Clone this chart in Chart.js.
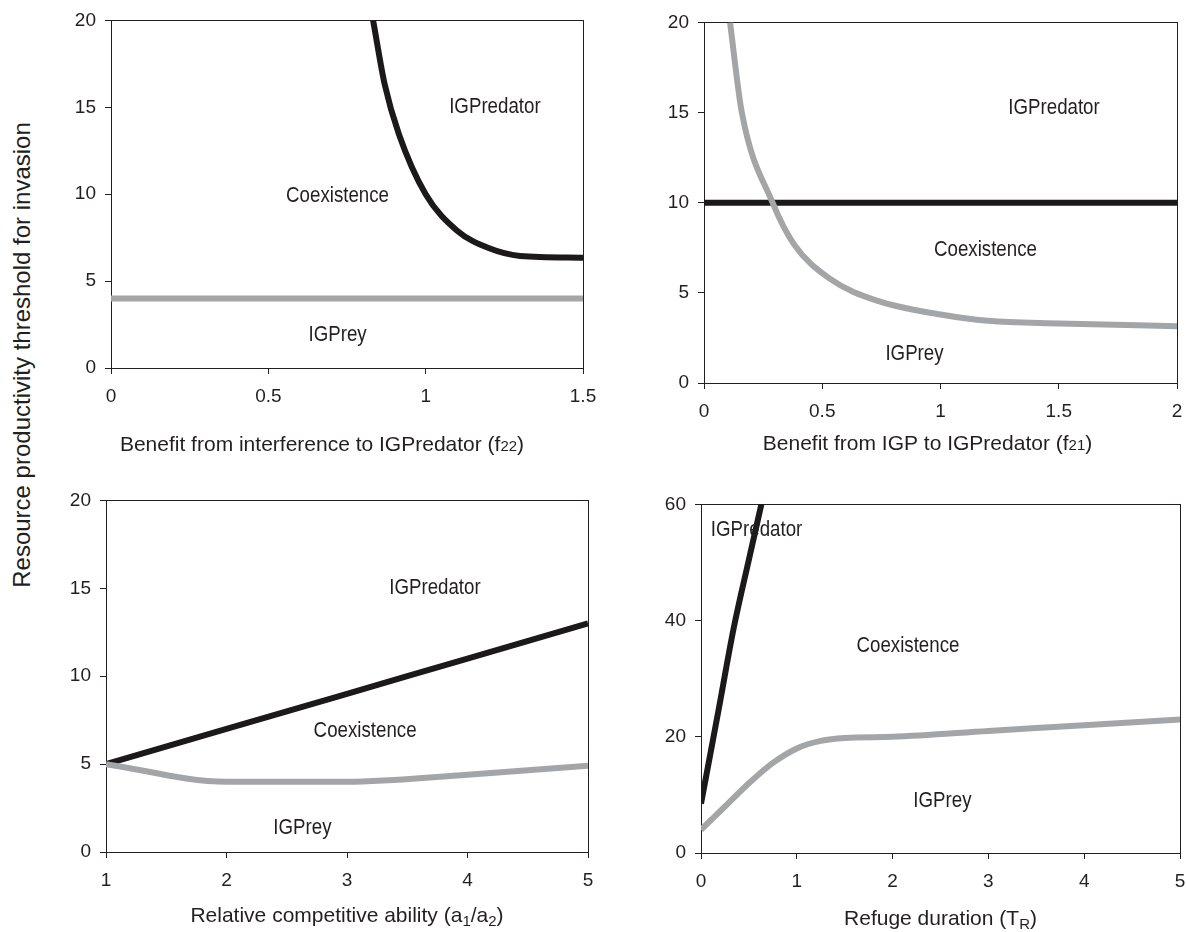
<!DOCTYPE html>
<html>
<head>
<meta charset="utf-8">
<script src="https://cdn.jsdelivr.net/npm/chart.js@4.4.1/dist/chart.umd.min.js"></script>
<style>
  body { margin: 0; background: #fff; width: 1186px; height: 932px; position: relative; overflow: hidden; }
  canvas { position: absolute; }
  #ytitle {
    position: absolute; left: 22px; top: 355px;
    transform: translate(-50%, -50%) rotate(-90deg);
    white-space: nowrap; font: 24px 'Liberation Sans', Arial, sans-serif; color: #231f20;
  }
</style>
</head>
<body>
<div id="ytitle">Resource productivity threshold for invasion</div>
<canvas id="p1"></canvas>
<canvas id="p2"></canvas>
<canvas id="p3"></canvas>
<canvas id="p4"></canvas>
<script>
// panel 1: benefit from interference (f22)
const f22Ticks = [0, 0.5, 1, 1.5];
const f22PredX = [0.833, 0.87, 0.915, 1.0, 1.1, 1.2, 1.3, 1.5];
const f22PredY = [20, 16.3, 13.45, 10, 7.9, 6.9, 6.45, 6.35];
const f22PreyX = [0, 0.5, 1, 1.5];
const f22PreyY = [4, 4, 4, 4];

// panel 2: benefit from IGP (f21)
const f21Ticks = [0, 0.5, 1, 1.5, 2];
const f21PredX = [0, 0.5, 1, 1.5, 2];
const f21PredY = [10, 10, 10, 10, 10];
const f21PreyX = [0.11, 0.16, 0.29, 0.38, 0.53, 0.735, 1.0, 1.2, 1.5, 2];
const f21PreyY = [20, 15, 10, 7.7, 5.8, 4.55, 3.8, 3.45, 3.3, 3.15];

// panel 3: relative competitive ability (a1/a2)
const aTicks = [1, 2, 3, 4, 5];
const aPredX = [1, 2, 3, 4, 5];
const aPredY = [5, 7, 9, 11, 13];
const aPreyX = [1, 2, 3, 4, 5];
const aPreyY = [5, 4, 4, 4.4, 4.9];

// panel 4: refuge duration (TR)
const tTicks = [0, 1, 2, 3, 4, 5];
const tPredX = [0, 0.18, 0.34, 0.5, 0.63];
const tPredY = [8.5, 24.3, 38.6, 50.5, 60];
const tPreyX = [0, 0.25, 0.5, 0.75, 1, 1.25, 1.5, 2, 3, 4, 5];
const tPreyY = [4, 8, 12, 15.5, 18, 19.3, 19.8, 20, 21, 22, 23];

const yTicks20 = [0, 5, 10, 15, 20];
const yTicks60 = [0, 20, 40, 60];

const regionNames = ['IGPredator', 'Coexistence', 'IGPrey'];
const f22LabelX = [1.22, 0.72, 0.72], f22LabelY = [15.0, 9.9, 1.9];
const f21LabelX = [1.48, 1.19, 0.89], f21LabelY = [15.25, 7.4, 1.6];
const aLabelX = [3.73, 3.15, 2.63], aLabelY = [15.0, 6.9, 1.35];
const tLabelX = [0.58, 2.16, 2.52], tLabelY = [55.6, 35.6, 8.9];

const INK = '#231f20';
const BLACK = '#1b1919';
const GREY = '#a3a6a9';
const TICK_FONT = "'Liberation Sans', Arial, sans-serif";

function pts(xs, ys) {
  return xs.map((x, i) => ({ x: x, y: ys[i] }));
}

function drawRich(ctx, parts, cx, y) {
  const big = "21px " + TICK_FONT, small = "15px " + TICK_FONT;
  let w = 0;
  parts.forEach(p => { ctx.font = p.small ? small : big; w += ctx.measureText(p.t).width; });
  let x = cx - w / 2;
  ctx.textAlign = 'left';
  ctx.textBaseline = 'alphabetic';
  parts.forEach(p => {
    ctx.font = p.small ? small : big;
    ctx.fillText(p.t, x, y + (p.low ? 4 : 0));
    x += ctx.measureText(p.t).width;
  });
}

const framePlugin = {
  id: 'frame',
  beforeDatasetsDraw(chart) {
    const { ctx, chartArea: a } = chart;
    ctx.save();
    ctx.strokeStyle = INK;
    ctx.lineWidth = 1;
    ctx.strokeRect(Math.round(a.left) + 0.5, Math.round(a.top) + 0.5,
      Math.round(a.right - a.left), Math.round(a.bottom - a.top));
    ctx.restore();
  },
  afterDraw(chart, args, opts) {
    const { ctx, chartArea: a, scales } = chart;
    ctx.save();
    ctx.fillStyle = INK;
    ctx.font = "22px " + TICK_FONT;
    ctx.textAlign = 'center';
    ctx.textBaseline = 'middle';
    // region names are set in a condensed face in the original
    opts.names.forEach((name, i) => {
      const px = scales.x.getPixelForValue(opts.lx[i]);
      const py = scales.y.getPixelForValue(opts.ly[i]);
      ctx.save();
      ctx.translate(px, py);
      ctx.scale(0.85, 1);
      ctx.fillText(name, 0, 0);
      ctx.restore();
    });
    drawRich(ctx, opts.title, (a.left + a.right) / 2 + opts.titleDx, opts.titleBase);
    ctx.restore();
  }
};

function makePanel(id, box, xTicks, yTicks, predX, predY, preyX, preyY, lx, ly, title, titleDx, titleBase) {
  const canvas = document.getElementById(id);
  const top = Math.max(0, box.top - 20);
  const left = box.left - 80;
  const width = box.right - left + 25;
  const height = box.bottom - top + 95;
  canvas.width = width;
  canvas.height = height;
  canvas.style.left = left + 'px';
  canvas.style.top = top + 'px';
  canvas.style.width = width + 'px';
  canvas.style.height = height + 'px';

  const tickStyle = {
    color: INK,
    font: { family: TICK_FONT, size: 19 },
    callback: v => String(Math.round(v * 100) / 100)
  };

  new Chart(canvas.getContext('2d'), {
    type: 'line',
    data: {
      datasets: [
        { data: pts(preyX, preyY), borderColor: GREY, borderWidth: 6, order: 0 },
        { data: pts(predX, predY), borderColor: BLACK, borderWidth: 6, order: 1 }
      ]
    },
    options: {
      responsive: false,
      animation: false,
      events: [],
      layout: { padding: { top: box.top - top, right: 25, left: 0, bottom: 0 } },
      elements: {
        point: { radius: 0 },
        line: { cubicInterpolationMode: 'monotone', borderCapStyle: 'butt', borderJoinStyle: 'round' }
      },
      datasets: { line: { clip: 0 } },
      plugins: {
        legend: { display: false },
        tooltip: { enabled: false },
        frame: { names: regionNames, lx: lx, ly: ly, title: title, titleDx: titleDx, titleBase: titleBase - top }
      },
      scales: {
        x: {
          type: 'linear',
          min: xTicks[0], max: xTicks[xTicks.length - 1],
          ticks: Object.assign({ stepSize: xTicks[1] - xTicks[0], padding: 11, maxRotation: 0 }, tickStyle),
          grid: { drawOnChartArea: false, tickLength: 6, color: INK },
          border: { display: false },
          afterFit(scale) { scale.height = 95; }
        },
        y: {
          min: yTicks[0], max: yTicks[yTicks.length - 1],
          ticks: Object.assign({ stepSize: yTicks[1] - yTicks[0], padding: 9 }, tickStyle),
          grid: { drawOnChartArea: false, tickLength: 6, color: INK },
          border: { display: false },
          afterFit(scale) { scale.width = 80; }
        }
      }
    },
    plugins: [framePlugin]
  });
}

makePanel('p1', { left: 111, right: 583, top: 19, bottom: 368 }, f22Ticks, yTicks20,
  f22PredX, f22PredY, f22PreyX, f22PreyY, f22LabelX, f22LabelY,
  [{ t: 'Benefit from interference to IGPredator (f' }, { t: '22', small: true }, { t: ')' }], -25, 451);

makePanel('p2', { left: 704, right: 1177, top: 22, bottom: 383 }, f21Ticks, yTicks20,
  f21PredX, f21PredY, f21PreyX, f21PreyY, f21LabelX, f21LabelY,
  [{ t: 'Benefit from IGP to IGPredator (f' }, { t: '21', small: true }, { t: ')' }], -13, 450);

makePanel('p3', { left: 106, right: 588, top: 500, bottom: 852 }, aTicks, yTicks20,
  aPredX, aPredY, aPreyX, aPreyY, aLabelX, aLabelY,
  [{ t: 'Relative competitive ability (a' }, { t: '1', small: true, low: true }, { t: '/a' },
   { t: '2', small: true, low: true }, { t: ')' }], 0, 922);

makePanel('p4', { left: 701, right: 1180, top: 504, bottom: 853 }, tTicks, yTicks60,
  tPredX, tPredY, tPreyX, tPreyY, tLabelX, tLabelY,
  [{ t: 'Refuge duration (T' }, { t: 'R', small: true, low: true }, { t: ')' }], 0, 925);
</script>
</body>
</html>
